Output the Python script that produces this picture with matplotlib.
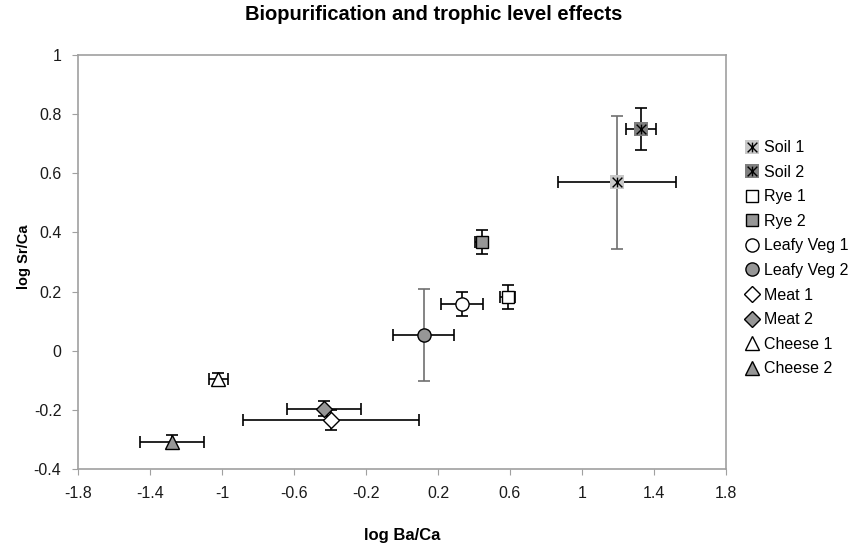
import numpy as np
import matplotlib.pyplot as plt
from matplotlib.path import Path
from matplotlib.legend_handler import HandlerTuple

plt.rcParams['font.family'] = ['Liberation Sans', 'DejaVu Sans']

# series read as (log Ba/Ca, log Sr/Ca) with symmetric error
names = ['Soil 1', 'Soil 2', 'Rye 1', 'Rye 2', 'Leafy Veg 1', 'Leafy Veg 2',
         'Meat 1', 'Meat 2', 'Cheese 1', 'Cheese 2']
ba = [1.196, 1.328, 0.587, 0.443, 0.335, 0.121, -0.393, -0.433, -1.02, -1.278]
sr = [0.569, 0.75, 0.181, 0.367, 0.158, 0.053, -0.234, -0.196, -0.096, -0.309]
ba_err = [0.328, 0.085, 0.04, 0.035, 0.116, 0.17, 0.49, 0.205, 0.054, 0.178]
sr_err = [0.226, 0.072, 0.041, 0.04, 0.04, 0.157, 0.035, 0.025, 0.02, 0.025]

markers = ['s', 's', 's', 's', 'o', 'o', 'D', 'D', '^', '^']
fills = ['#c8c8c8', '#7f7f7f', 'white', '#969696', 'white', '#969696',
         'white', '#969696', 'white', '#969696']
sizes = [10, 10, 9, 9, 9.5, 9.5, 8, 8, 10, 10]
vcol = ['#707070', 'black', 'black', 'black', 'black', '#707070',
        'black', 'black', 'black', 'black']

# asterisk-like marker: an X with a vertical stroke
star = Path([(-1, -1), (1, 1), (-1, 1), (1, -1), (0, -1), (0, 1)],
            [Path.MOVETO, Path.LINETO, Path.MOVETO, Path.LINETO,
             Path.MOVETO, Path.LINETO])

fig = plt.figure(figsize=(8.58, 5.46), dpi=100)
ax = fig.add_axes([0.0909, 0.141, 0.7552, 0.7583])

handles = []
for i in range(len(names)):
    ax.errorbar(ba[i], sr[i], xerr=ba_err[i], fmt='none', ecolor='black',
                elinewidth=1.2, capsize=4, capthick=1.2, zorder=2)
    ax.errorbar(ba[i], sr[i], yerr=sr_err[i], fmt='none', ecolor=vcol[i],
                elinewidth=1.2, capsize=4, capthick=1.2, zorder=2)
    mew = 0 if i < 2 else 1.0
    mec = fills[i] if i < 2 else 'black'
    h, = ax.plot(ba[i], sr[i], linestyle='none', marker=markers[i],
                 markersize=sizes[i], markerfacecolor=fills[i],
                 markeredgecolor=mec, markeredgewidth=mew, zorder=3)
    if i < 2:
        h2, = ax.plot(ba[i], sr[i], linestyle='none', marker=star,
                      markersize=7, markeredgecolor='black',
                      markerfacecolor='none', markeredgewidth=1.0, zorder=4)
        handles.append((h, h2))
    else:
        handles.append(h)

ax.set_xlim(-1.8, 1.8)
ax.set_ylim(-0.4, 1.0)
ax.set_xticks(np.arange(-1.8, 1.81, 0.4))
ax.set_xticklabels(['-1.8', '-1.4', '-1', '-0.6', '-0.2', '0.2', '0.6', '1', '1.4', '1.8'])
ax.set_yticks(np.arange(-0.4, 1.01, 0.2))
ax.set_yticklabels(['-0.4', '-0.2', '0', '0.2', '0.4', '0.6', '0.8', '1'])
ax.tick_params(labelsize=11.5, length=4, color='#a0a0a0', width=0.8,
               labelcolor='#1a1a1a', pad=8)
for s in ax.spines.values():
    s.set_color('#a0a0a0')
    s.set_linewidth(1.2)

ax.set_xlabel('log Ba/Ca', fontsize=12, fontweight='bold', labelpad=20)
fig.text(24 / 858, 1 - 257 / 546, 'log Sr/Ca', rotation=90, ha='center',
         va='center', fontsize=10.5, fontweight='bold')
fig.text(434 / 858, 0.99, 'Biopurification and trophic level effects',
         ha='center', va='top', fontsize=14.5, fontweight='bold')

leg = fig.legend(handles, names, loc='upper left',
                 bbox_to_anchor=(0.862, 0.755), frameon=False,
                 fontsize=11.5, handlelength=0.8, handletextpad=0.3,
                 labelspacing=0.6, borderaxespad=0,
                 handler_map={tuple: HandlerTuple(ndivide=1, pad=0)})

fig.savefig('out.png', dpi=100)
